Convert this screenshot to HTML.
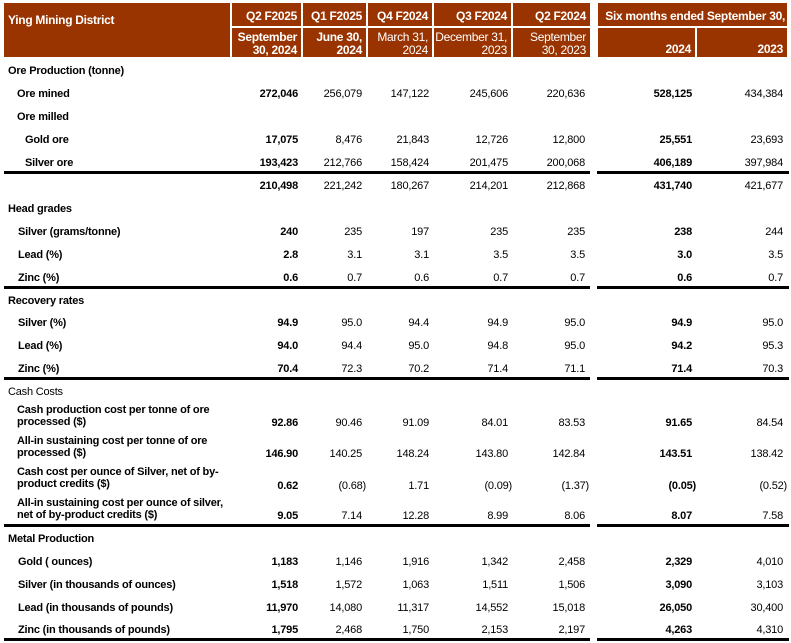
<!DOCTYPE html>
<html><head><meta charset="utf-8"><style>
body{margin:0;width:791px;height:643px;background:#fff;position:relative;font-family:"Liberation Sans",sans-serif;font-size:11px;color:#000;overflow:hidden;letter-spacing:-0.2px}
.h{position:absolute;background:#993300;color:#fff;font-weight:bold;font-size:12px;line-height:13px;letter-spacing:-0.3px}
.l{position:absolute;line-height:14px;font-weight:bold;white-space:nowrap}
.n{position:absolute;line-height:14px;width:80px;text-align:right;white-space:nowrap}
.b{font-weight:bold}
.ln{position:absolute;height:3px;background:#000}
</style></head><body>
<div class="h" style="left:4px;top:3px;width:226px;height:54px;"><span style="position:absolute;left:4px;top:11px">Ying Mining District</span></div>
<div class="h" style="left:232px;top:3px;width:69px;height:23px;text-align:right"><span style="position:absolute;right:4px;top:7px">Q2 F2025</span></div>
<div class="h" style="left:303px;top:3px;width:63px;height:23px"><span style="position:absolute;right:4px;top:7px">Q1 F2025</span></div>
<div class="h" style="left:368px;top:3px;width:64px;height:23px"><span style="position:absolute;right:4px;top:7px">Q4 F2024</span></div>
<div class="h" style="left:434px;top:3px;width:77px;height:23px"><span style="position:absolute;right:4px;top:7px">Q3 F2024</span></div>
<div class="h" style="left:513px;top:3px;width:77px;height:23px"><span style="position:absolute;right:4px;top:7px">Q2 F2024</span></div>
<div class="h" style="left:598px;top:3px;width:189px;height:23px"><span style="position:absolute;right:2px;top:7px">Six months ended September 30,</span></div>
<div class="h" style="left:232px;top:28px;width:69px;height:29px;text-align:right"><span style="position:absolute;right:4px;top:3px">September<br>30, 2024</span></div>
<div class="h" style="left:303px;top:28px;width:63px;height:29px;text-align:right"><span style="position:absolute;right:4px;top:3px">June 30,<br>2024</span></div>
<div class="h" style="left:368px;top:28px;width:64px;height:29px;text-align:right;font-weight:normal"><span style="position:absolute;right:4px;top:3px">March 31,<br>2024</span></div>
<div class="h" style="left:434px;top:28px;width:77px;height:29px;text-align:right;font-weight:normal"><span style="position:absolute;right:4px;top:3px">December 31,<br>2023</span></div>
<div class="h" style="left:513px;top:28px;width:77px;height:29px;text-align:right;font-weight:normal"><span style="position:absolute;right:4px;top:3px">September<br>30, 2023</span></div>
<div class="h" style="left:598px;top:28px;width:97px;height:29px"><span style="position:absolute;right:4px;top:15px">2024</span></div>
<div class="h" style="left:697px;top:28px;width:90px;height:29px"><span style="position:absolute;right:4px;top:15px">2023</span></div>

<div class="ln" style="left:4px;width:586px;top:171px"></div><div class="ln" style="left:597px;width:192px;top:171px"></div>
<div class="ln" style="left:4px;width:586px;top:286px"></div><div class="ln" style="left:597px;width:192px;top:286px"></div>
<div class="ln" style="left:4px;width:586px;top:377px"></div><div class="ln" style="left:597px;width:192px;top:377px"></div>
<div class="ln" style="left:4px;width:586px;top:524px"></div><div class="ln" style="left:597px;width:192px;top:524px"></div>
<div class="ln" style="left:4px;width:586px;top:638px"></div><div class="ln" style="left:597px;width:192px;top:638px"></div>

<div class="l" style="left:8px;top:64px">Ore Production (tonne)</div>
<div class="l" style="left:17px;top:87px">Ore mined</div>
<div class="n b" style="left:218px;top:87px">272,046</div><div class="n" style="left:282px;top:87px">256,079</div><div class="n" style="left:349px;top:87px">147,122</div><div class="n" style="left:428px;top:87px">245,606</div><div class="n" style="left:505px;top:87px">220,636</div><div class="n b" style="left:612px;top:87px">528,125</div><div class="n" style="left:703px;top:87px">434,384</div>
<div class="l" style="left:17px;top:110px">Ore milled</div>
<div class="l" style="left:25px;top:133px">Gold ore</div>
<div class="n b" style="left:218px;top:133px">17,075</div><div class="n" style="left:282px;top:133px">8,476</div><div class="n" style="left:349px;top:133px">21,843</div><div class="n" style="left:428px;top:133px">12,726</div><div class="n" style="left:505px;top:133px">12,800</div><div class="n b" style="left:612px;top:133px">25,551</div><div class="n" style="left:703px;top:133px">23,693</div>
<div class="l" style="left:25px;top:156px">Silver ore</div>
<div class="n b" style="left:218px;top:156px">193,423</div><div class="n" style="left:282px;top:156px">212,766</div><div class="n" style="left:349px;top:156px">158,424</div><div class="n" style="left:428px;top:156px">201,475</div><div class="n" style="left:505px;top:156px">200,068</div><div class="n b" style="left:612px;top:156px">406,189</div><div class="n" style="left:703px;top:156px">397,984</div>
<div class="n b" style="left:218px;top:179px">210,498</div><div class="n" style="left:282px;top:179px">221,242</div><div class="n" style="left:349px;top:179px">180,267</div><div class="n" style="left:428px;top:179px">214,201</div><div class="n" style="left:505px;top:179px">212,868</div><div class="n b" style="left:612px;top:179px">431,740</div><div class="n" style="left:703px;top:179px">421,677</div>

<div class="l" style="left:8px;top:202px">Head grades</div>
<div class="l" style="left:18px;top:225px">Silver (grams/tonne)</div>
<div class="n b" style="left:218px;top:225px">240</div><div class="n" style="left:282px;top:225px">235</div><div class="n" style="left:349px;top:225px">197</div><div class="n" style="left:428px;top:225px">235</div><div class="n" style="left:505px;top:225px">235</div><div class="n b" style="left:612px;top:225px">238</div><div class="n" style="left:703px;top:225px">244</div>
<div class="l" style="left:18px;top:248px">Lead (%)</div>
<div class="n b" style="left:218px;top:248px">2.8</div><div class="n" style="left:282px;top:248px">3.1</div><div class="n" style="left:349px;top:248px">3.1</div><div class="n" style="left:428px;top:248px">3.5</div><div class="n" style="left:505px;top:248px">3.5</div><div class="n b" style="left:612px;top:248px">3.0</div><div class="n" style="left:703px;top:248px">3.5</div>
<div class="l" style="left:18px;top:271px">Zinc (%)</div>
<div class="n b" style="left:218px;top:271px">0.6</div><div class="n" style="left:282px;top:271px">0.7</div><div class="n" style="left:349px;top:271px">0.6</div><div class="n" style="left:428px;top:271px">0.7</div><div class="n" style="left:505px;top:271px">0.7</div><div class="n b" style="left:612px;top:271px">0.6</div><div class="n" style="left:703px;top:271px">0.7</div>

<div class="l" style="left:8px;top:294px">Recovery rates</div>
<div class="l" style="left:18px;top:316px">Silver (%)</div>
<div class="n b" style="left:218px;top:316px">94.9</div><div class="n" style="left:282px;top:316px">95.0</div><div class="n" style="left:349px;top:316px">94.4</div><div class="n" style="left:428px;top:316px">94.9</div><div class="n" style="left:505px;top:316px">95.0</div><div class="n b" style="left:612px;top:316px">94.9</div><div class="n" style="left:703px;top:316px">95.0</div>
<div class="l" style="left:18px;top:339px">Lead (%)</div>
<div class="n b" style="left:218px;top:339px">94.0</div><div class="n" style="left:282px;top:339px">94.4</div><div class="n" style="left:349px;top:339px">95.0</div><div class="n" style="left:428px;top:339px">94.8</div><div class="n" style="left:505px;top:339px">95.0</div><div class="n b" style="left:612px;top:339px">94.2</div><div class="n" style="left:703px;top:339px">95.3</div>
<div class="l" style="left:18px;top:362px">Zinc (%)</div>
<div class="n b" style="left:218px;top:362px">70.4</div><div class="n" style="left:282px;top:362px">72.3</div><div class="n" style="left:349px;top:362px">70.2</div><div class="n" style="left:428px;top:362px">71.4</div><div class="n" style="left:505px;top:362px">71.1</div><div class="n b" style="left:612px;top:362px">71.4</div><div class="n" style="left:703px;top:362px">70.3</div>

<div class="l" style="left:8px;top:385px;font-weight:normal">Cash Costs</div>
<div class="l" style="left:17px;top:404px;line-height:12px">Cash production cost per tonne of ore<br>processed ($)</div>
<div class="n b" style="left:218px;top:416px">92.86</div><div class="n" style="left:282px;top:416px">90.46</div><div class="n" style="left:349px;top:416px">91.09</div><div class="n" style="left:428px;top:416px">84.01</div><div class="n" style="left:505px;top:416px">83.53</div><div class="n b" style="left:612px;top:416px">91.65</div><div class="n" style="left:703px;top:416px">84.54</div>
<div class="l" style="left:17px;top:435px;line-height:12px">All-in sustaining cost per tonne of ore<br>processed ($)</div>
<div class="n b" style="left:218px;top:447px">146.90</div><div class="n" style="left:282px;top:447px">140.25</div><div class="n" style="left:349px;top:447px">148.24</div><div class="n" style="left:428px;top:447px">143.80</div><div class="n" style="left:505px;top:447px">142.84</div><div class="n b" style="left:612px;top:447px">143.51</div><div class="n" style="left:703px;top:447px">138.42</div>
<div class="l" style="left:17px;top:466px;line-height:12px">Cash cost per ounce of Silver, net of by-<br>product credits ($)</div>
<div class="n b" style="left:218px;top:479px">0.62</div><div class="n" style="left:286px;top:479px">(0.68)</div><div class="n" style="left:349px;top:479px">1.71</div><div class="n" style="left:432px;top:479px">(0.09)</div><div class="n" style="left:509px;top:479px">(1.37)</div><div class="n b" style="left:616px;top:479px">(0.05)</div><div class="n" style="left:707px;top:479px">(0.52)</div>
<div class="l" style="left:17px;top:497px;line-height:12px">All-in sustaining cost per ounce of silver,<br>net of by-product credits ($)</div>
<div class="n b" style="left:218px;top:509px">9.05</div><div class="n" style="left:282px;top:509px">7.14</div><div class="n" style="left:349px;top:509px">12.28</div><div class="n" style="left:428px;top:509px">8.99</div><div class="n" style="left:505px;top:509px">8.06</div><div class="n b" style="left:612px;top:509px">8.07</div><div class="n" style="left:703px;top:509px">7.58</div>

<div class="l" style="left:8px;top:532px">Metal Production</div>
<div class="l" style="left:18px;top:555px">Gold ( ounces)</div>
<div class="n b" style="left:218px;top:555px">1,183</div><div class="n" style="left:282px;top:555px">1,146</div><div class="n" style="left:349px;top:555px">1,916</div><div class="n" style="left:428px;top:555px">1,342</div><div class="n" style="left:505px;top:555px">2,458</div><div class="n b" style="left:612px;top:555px">2,329</div><div class="n" style="left:703px;top:555px">4,010</div>
<div class="l" style="left:18px;top:578px">Silver (in thousands of ounces)</div>
<div class="n b" style="left:218px;top:578px">1,518</div><div class="n" style="left:282px;top:578px">1,572</div><div class="n" style="left:349px;top:578px">1,063</div><div class="n" style="left:428px;top:578px">1,511</div><div class="n" style="left:505px;top:578px">1,506</div><div class="n b" style="left:612px;top:578px">3,090</div><div class="n" style="left:703px;top:578px">3,103</div>
<div class="l" style="left:18px;top:601px">Lead (in thousands of pounds)</div>
<div class="n b" style="left:218px;top:601px">11,970</div><div class="n" style="left:282px;top:601px">14,080</div><div class="n" style="left:349px;top:601px">11,317</div><div class="n" style="left:428px;top:601px">14,552</div><div class="n" style="left:505px;top:601px">15,018</div><div class="n b" style="left:612px;top:601px">26,050</div><div class="n" style="left:703px;top:601px">30,400</div>
<div class="l" style="left:18px;top:623px">Zinc (in thousands of pounds)</div>
<div class="n b" style="left:218px;top:623px">1,795</div><div class="n" style="left:282px;top:623px">2,468</div><div class="n" style="left:349px;top:623px">1,750</div><div class="n" style="left:428px;top:623px">2,153</div><div class="n" style="left:505px;top:623px">2,197</div><div class="n b" style="left:612px;top:623px">4,263</div><div class="n" style="left:703px;top:623px">4,310</div>
</body></html>
